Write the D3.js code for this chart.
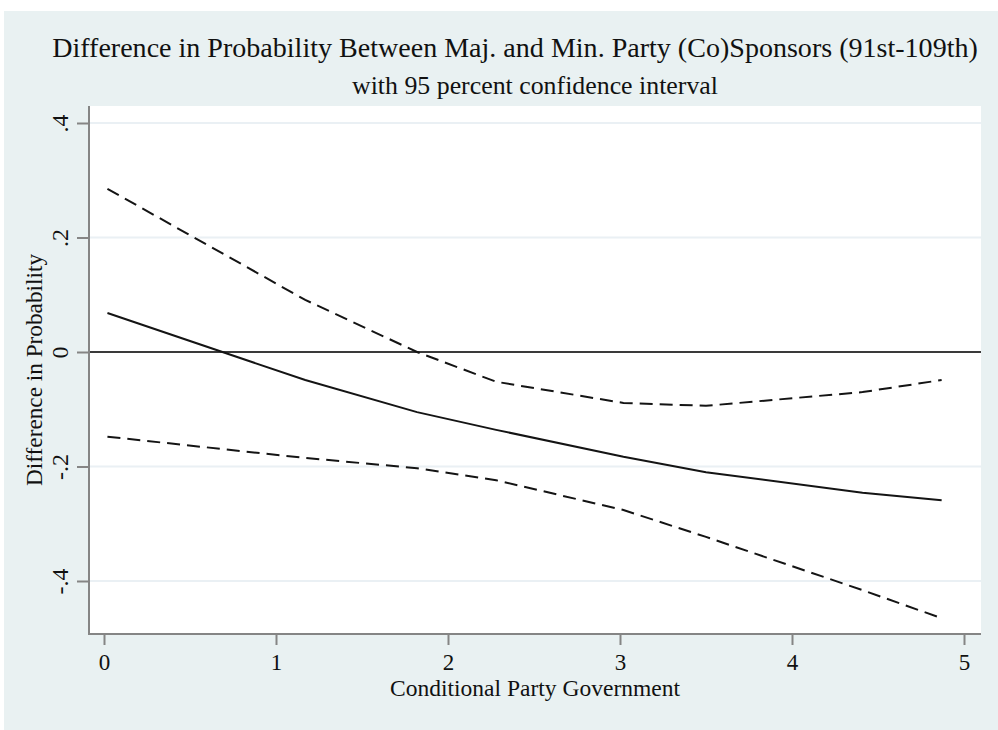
<!DOCTYPE html>
<html>
<head>
<meta charset="utf-8">
<script src="https://cdn.jsdelivr.net/npm/d3@7"></script>
<style>
  html, body { margin: 0; padding: 0; background: #ffffff; }
  svg { display: block; }
  text { font-family: "Liberation Serif", "Times New Roman", serif; fill: #111; }
</style>
</head>
<body>
<svg id="chart" width="998" height="730"></svg>
<script>
// ---- data ----
const titleText = "Difference in Probability Between Maj. and Min. Party (Co)Sponsors (91st-109th)";
const subtitleText = "with 95 percent confidence interval";
const xLabelText = "Conditional Party Government";
const yLabelText = "Difference in Probability";

const xTicks = [0, 1, 2, 3, 4, 5];
const yTicks = [-0.4, -0.2, 0, 0.2, 0.4];
const yTickLabels = ["-.4", "-.2", "0", ".2", ".4"];

const cpg   = [0.02, 1.17, 1.82, 2.28, 3.02, 3.50, 4.41, 4.87];
const diff  = [0.068, -0.049, -0.105, -0.136, -0.183, -0.210, -0.246, -0.259];
const upper = [0.285, 0.091, 0.000, -0.052, -0.089, -0.094, -0.070, -0.049];
const lower = [-0.148, -0.185, -0.203, -0.224, -0.276, -0.323, -0.416, -0.465];

// ---- layout ----
const W = 998, H = 730;
const plot = { left: 89, right: 981, top: 106, bottom: 634 };

const svg = d3.select("#chart");

// backgrounds
svg.append("rect").attr("x", 0).attr("y", 0).attr("width", W).attr("height", H).attr("fill", "#ffffff");
svg.append("rect").attr("x", 4).attr("y", 11).attr("width", W - 4).attr("height", H - 11).attr("fill", "#e9f1f2");
svg.append("rect")
  .attr("x", plot.left).attr("y", plot.top)
  .attr("width", plot.right - plot.left).attr("height", plot.bottom - plot.top)
  .attr("fill", "#ffffff");

// scales
const x = d3.scaleLinear().domain([0, 5]).range([104, 964]);
const y = d3.scaleLinear().domain([-0.4, 0.4]).range([581, 123]);

// gridlines
svg.append("g").selectAll("line").data(yTicks).join("line")
  .attr("x1", plot.left).attr("x2", plot.right)
  .attr("y1", d => y(d)).attr("y2", d => y(d))
  .attr("stroke", "#eaf0f4").attr("stroke-width", 2);

// zero reference line
svg.append("line")
  .attr("x1", plot.left).attr("x2", plot.right)
  .attr("y1", y(0)).attr("y2", y(0))
  .attr("stroke", "#3a3a3a").attr("stroke-width", 2);

// lines
const lineGen = d3.line().x(d => x(d[0])).y(d => y(d[1]));
const series = [
  { vals: upper, dash: "13,7" },
  { vals: lower, dash: "13,7" },
  { vals: diff, dash: null }
];
series.forEach(s => {
  svg.append("path")
    .datum(cpg.map((c, i) => [c, s.vals[i]]))
    .attr("d", lineGen)
    .attr("fill", "none")
    .attr("stroke", "#141414")
    .attr("stroke-width", 2)
    .attr("stroke-dasharray", s.dash);
});

// axes lines
svg.append("line")
  .attr("x1", plot.left).attr("x2", plot.left)
  .attr("y1", plot.top).attr("y2", plot.bottom + 1)
  .attr("stroke", "#858585").attr("stroke-width", 2);
svg.append("line")
  .attr("x1", plot.left - 1).attr("x2", plot.right)
  .attr("y1", plot.bottom).attr("y2", plot.bottom)
  .attr("stroke", "#858585").attr("stroke-width", 2);

// x axis
const xAxis = svg.append("g")
  .attr("transform", `translate(0,${plot.bottom})`)
  .call(d3.axisBottom(x).tickValues(xTicks).tickFormat(d3.format("d")).tickSize(11).tickPadding(0));
xAxis.select(".domain").remove();
xAxis.selectAll(".tick line").attr("stroke", "#858585").attr("stroke-width", 2);
xAxis.selectAll(".tick text")
  .attr("y", 36).attr("dy", 0)
  .style("font-family", '"Liberation Serif", serif')
  .style("font-size", "23px").attr("fill", "#111");

// y axis
const yAxis = svg.append("g")
  .attr("transform", `translate(${plot.left},0)`)
  .call(d3.axisLeft(y).tickValues(yTicks).tickFormat((d, i) => yTickLabels[i]).tickSize(12).tickPadding(0));
yAxis.select(".domain").remove();
yAxis.selectAll(".tick line").attr("stroke", "#858585").attr("stroke-width", 2);
yAxis.selectAll(".tick text")
  .attr("x", 0).attr("y", -21).attr("dy", 0)
  .attr("text-anchor", "middle")
  .attr("transform", "rotate(-90)")
  .style("font-family", '"Liberation Serif", serif')
  .style("font-size", "24px").attr("fill", "#111");

// fitted text helper
function fitText(t, base, target) {
  const len = t.node().getComputedTextLength();
  if (len > 0) t.style("font-size", (base * target / len).toFixed(2) + "px");
}

const title = svg.append("text")
  .attr("x", 515).attr("y", 57).attr("text-anchor", "middle")
  .style("font-size", "25px").text(titleText);
fitText(title, 25, 926);

const subtitle = svg.append("text")
  .attr("x", 535).attr("y", 94).attr("text-anchor", "middle")
  .style("font-size", "22px").text(subtitleText);
fitText(subtitle, 22, 366);

const xLabel = svg.append("text")
  .attr("x", 535).attr("y", 696).attr("text-anchor", "middle")
  .style("font-size", "23px").text(xLabelText);
fitText(xLabel, 23, 290);

const yLabel = svg.append("text")
  .attr("transform", `translate(42,${(plot.top + plot.bottom) / 2}) rotate(-90)`)
  .attr("text-anchor", "middle")
  .style("font-size", "23px").text(yLabelText);
fitText(yLabel, 23, 232);
</script>
</body>
</html>
